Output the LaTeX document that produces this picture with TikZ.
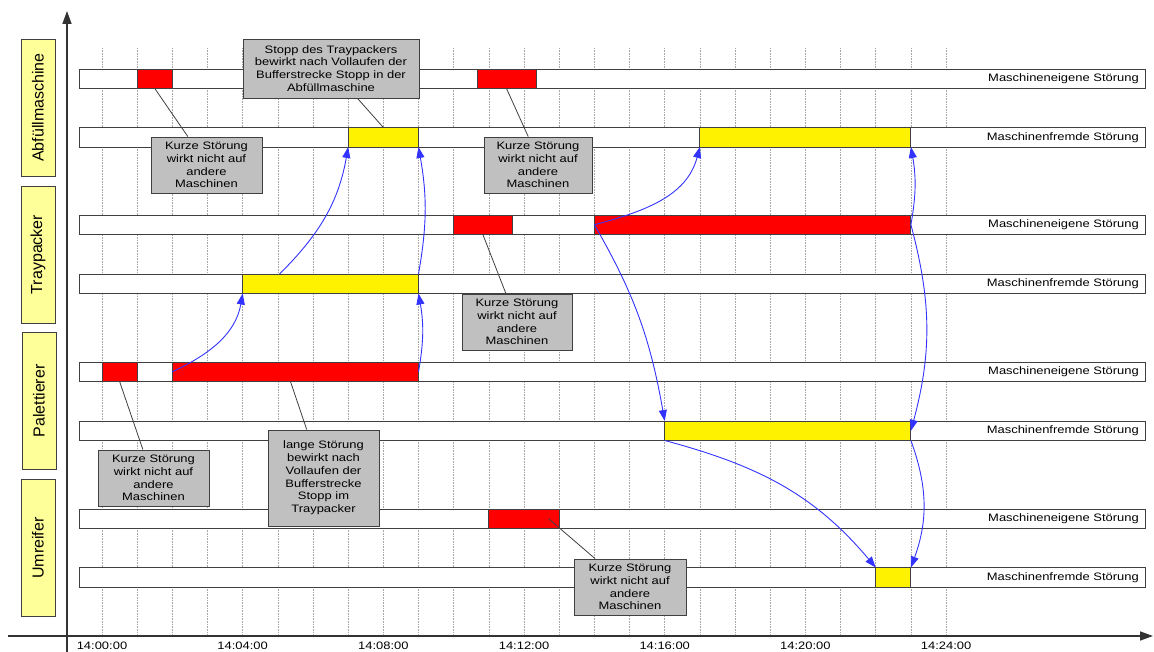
\documentclass[tikz,border=0pt]{standalone}
\usepackage{fontspec}
\setmainfont{Liberation Sans}
\newfontfamily\labfont[FakeStretch=1.2]{Liberation Sans}
\usetikzlibrary{arrows.meta,calc}
\definecolor{boxgray}{HTML}{C0C0C0}
\definecolor{edgegray}{HTML}{404040}
\definecolor{lyellow}{HTML}{FFFF99}
\definecolor{arrblue}{HTML}{3333FF}
\definecolor{gridgray}{HTML}{A8A8A8}
\begin{document}
\begin{tikzpicture}[x=1pt,y=1pt,
  barbox/.style={draw=edgegray, fill=white, line width=0.9pt, anchor=north west, minimum height=19.5pt, inner sep=0pt, outer sep=0pt},
  seg/.style={barbox},
  callout/.style={draw=edgegray, fill=boxgray, line width=0.9pt, inner sep=0pt, align=center, font=\labfont\fontsize{10.8}{12.8}\selectfont},
  mlabel/.style={draw=edgegray, fill=lyellow, line width=0.9pt, rotate=90, minimum width=137pt, minimum height=34pt, inner sep=0pt, font=\fontsize{16}{16}\selectfont},
  bartext/.style={anchor=east, font=\labfont\fontsize{10.8}{13}\selectfont, inner sep=0pt},
  timetext/.style={font=\labfont\fontsize{10.8}{13}\selectfont, inner sep=0pt},
  leader/.style={draw=edgegray, line width=0.8pt},
  flow/.style={draw=arrblue, line width=0.9pt, -{Triangle[length=11pt,width=8pt]}},
  gridline/.style={draw=gridgray, densely dotted, line width=0.6pt},
  axisline/.style={draw=black!80, line width=1.6pt, -{Triangle[length=13pt,width=9pt]}}
]
\useasboundingbox (0,0) rectangle (1154,-652);

% grid
\foreach \i in {0,...,24}
  \draw[gridline] ({102+35.17*\i},-48) -- ({102+35.17*\i},-636);

% machine labels
\node[mlabel] (mA) at (38,-107.5) {Abfüllmaschine};
\node[mlabel] (mT) at (38,-254.5) {Traypacker};
\node[mlabel] (mP) at (39,-401) {Palettierer};
\node[mlabel] (mU) at (38,-548) {Umreifer};

% bars
\node[barbox, minimum width=1066pt] (ae) at (79,-69) {};
\node[barbox, minimum width=1066pt] (af) at (79,-127.5) {};
\node[barbox, minimum width=1066pt] (te) at (79,-215) {};
\node[barbox, minimum width=1066pt] (tf) at (79,-274) {};
\node[barbox, minimum width=1066pt] (pe) at (79,-362) {};
\node[barbox, minimum width=1066pt] (pf) at (79,-421) {};
\node[barbox, minimum width=1066pt] (ue) at (79,-509) {};
\node[barbox, minimum width=1066pt] (uf) at (79,-567.5) {};

\node[bartext] (aet) at (1139,-78.75) {Maschineneigene Störung};
\node[bartext] (aft) at (1139,-137.25) {Maschinenfremde Störung};
\node[bartext] (tet) at (1139,-224.75) {Maschineneigene Störung};
\node[bartext] (tft) at (1139,-283.75) {Maschinenfremde Störung};
\node[bartext] (pet) at (1139,-371.75) {Maschineneigene Störung};
\node[bartext] (pft) at (1139,-430.75) {Maschinenfremde Störung};
\node[bartext] (uet) at (1139,-518.75) {Maschineneigene Störung};
\node[bartext] (uft) at (1139,-577.25) {Maschinenfremde Störung};

% segments
\node[seg, fill=red, minimum width=35.2pt] (ae1) at (137.2,-69) {};
\node[seg, fill=red, minimum width=59pt] (ae2) at (477,-69) {};
\node[seg, fill=yellow, minimum width=70.3pt] (af1) at (348.2,-127.5) {};
\node[seg, fill=yellow, minimum width=211pt] (af2) at (699.9,-127.5) {};
\node[seg, fill=red, minimum width=58.3pt] (te1) at (453.7,-215) {};
\node[seg, fill=red, minimum width=316.5pt] (te2) at (594.4,-215) {};
\node[seg, fill=yellow, minimum width=175.8pt] (tf1) at (242.7,-274) {};
\node[seg, fill=red, minimum width=35.2pt] (pe1) at (102,-362) {};
\node[seg, fill=red, minimum width=246.2pt] (pe2) at (172.3,-362) {};
\node[seg, fill=yellow, minimum width=246.2pt] (pf1) at (664.7,-421) {};
\node[seg, fill=red, minimum width=70.3pt] (ue1) at (488.9,-509) {};
\node[seg, fill=yellow, minimum width=35.2pt] (uf1) at (875.7,-567.5) {};

% callouts
\node[callout, minimum width=176pt, minimum height=59pt] (c1) at (331,-68.5)
  {Stopp des Traypackers\\bewirkt nach Vollaufen der\\Bufferstrecke Stopp in der\\Abfüllmaschine};
\node[callout, minimum width=111pt, minimum height=56pt] (c2) at (206.5,-165)
  {Kurze Störung\\wirkt nicht auf\\andere\\Maschinen};
\node[callout, minimum width=108pt, minimum height=56pt] (c3) at (538,-165)
  {Kurze Störung\\wirkt nicht auf\\andere\\Maschinen};
\node[callout, minimum width=110pt, minimum height=56pt] (c4) at (517,-322)
  {Kurze Störung\\wirkt nicht auf\\andere\\Maschinen};
\node[callout, minimum width=111pt, minimum height=56pt] (c5) at (153.5,-478)
  {Kurze Störung\\wirkt nicht auf\\andere\\Maschinen};
\node[callout, minimum width=111pt, minimum height=96pt] (c6) at (323.5,-478)
  {lange Störung\\bewirkt nach\\Vollaufen der\\Bufferstrecke\\Stopp im\\Traypacker};
\node[callout, minimum width=112pt, minimum height=56pt] (c7) at (630,-587)
  {Kurze Störung\\wirkt nicht auf\\andere\\Maschinen};

% leader lines
\draw[leader] ($(c1.south west)!0.65!(c1.south east)$) -- (af1.north);
\draw[leader] (ae1.south) -- ($(c2.north west)!0.333!(c2.north east)$);
\draw[leader] (ae2.south) -- ($(c3.north west)!0.41!(c3.north east)$);
\draw[leader] (te1.south) -- ($(c4.north west)!0.4!(c4.north east)$);
\draw[leader] (pe1.south) -- ($(c5.north west)!0.405!(c5.north east)$);
\draw[leader] ($(pe2.south west)!0.48!(pe2.south east)$) -- ($(c6.north west)!0.35!(c6.north east)$);
\draw[leader] ($(ue1.center)!0.7!(ue1.east)$) -- ($(c7.north west)!0.19!(c7.north east)$);

% flow arrows
\coordinate (tfs) at ($(tf1.north west)!0.21!(tf1.north east)$);
\draw[flow] (pe2.west) to[out=25,in=-100] (tf1.south west);
\draw[flow] (pe2.east) to[out=80,in=-80] (tf1.south east);
\draw[flow] (tfs) to[out=45,in=-100] (af1.south west);
\draw[flow] (tf1.north east) to[out=80,in=-80] (af1.south east);
\draw[flow] (te2.west) to[out=15,in=-105] (af2.south west);
\draw[flow] (te2.east) to[out=80,in=-80] (af2.south east);
\draw[flow] (te2.west) to[out=-60,in=100] (pf1.north west);
\draw[flow] (te2.east) to[out=-75,in=75] (pf1.east);
\draw[flow] (pf1.south east) to[out=-70,in=70] (uf1.north east);
\draw[flow] (pf1.south west) to[out=-15,in=130] (uf1.north west);

% axes
\coordinate (xo) at (8,-636);
\coordinate (xe) at (1153,-636);
\coordinate (yo) at (67,-652);
\coordinate (ye) at (67,-11);
\draw[axisline] (xo) -- (xe);
\draw[axisline] (yo) -- (ye);

% time labels
\foreach \k/\t in {0/14:00:00,1/14:04:00,2/14:08:00,3/14:12:00,4/14:16:00,5/14:20:00,6/14:24:00}
  \node[timetext] (t\k) at ({102+140.68*\k},-645.5) {\t};
\end{tikzpicture}
\end{document}
